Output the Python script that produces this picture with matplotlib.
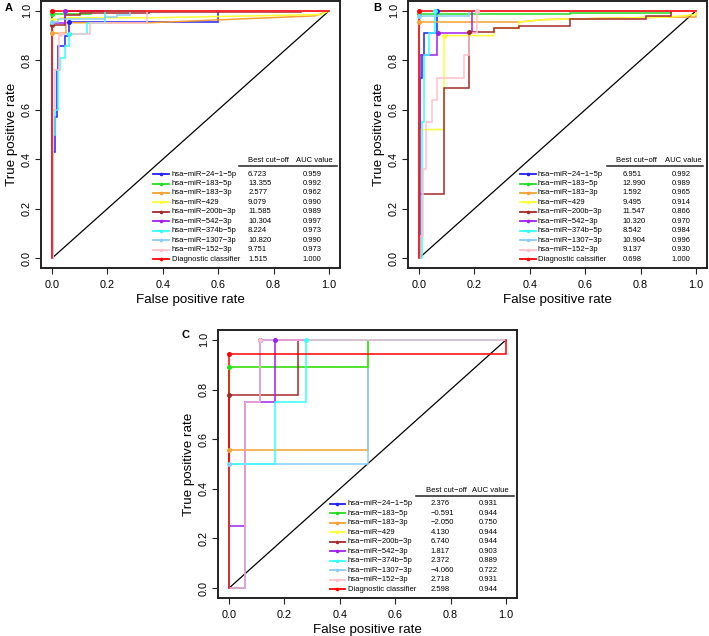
import matplotlib
matplotlib.use("Agg")
import matplotlib.pyplot as plt

plt.rcParams['font.family'] = ['Liberation Sans', 'DejaVu Sans']

# ---------------- data ----------------
NAMES = ["hsa\u2212miR\u221224\u22121\u22125p", "hsa\u2212miR\u2212183\u22125p", "hsa\u2212miR\u2212183\u22123p",
         "hsa\u2212miR\u2212429", "hsa\u2212miR\u2212200b\u22123p", "hsa\u2212miR\u2212542\u22123p",
         "hsa\u2212miR\u2212374b\u22125p", "hsa\u2212miR\u22121307\u22123p", "hsa\u2212miR\u2212152\u22123p"]
A_LAST = "Diagnostic classifier"
B_LAST = "Diagnostic calssifier"
C_LAST = "Diagnostic classifier"

COLORS = ["#1f1fff", "#22dd22", "#f5a030", "#ffff33", "#a52a2a", "#a020f0",
          "#33ffff", "#87cefa", "#ffc0cb", "#ff0000"]

A_cutoff = ["6.723", "13.355", "2.577", "9.079", "11.585", "10.304", "8.224", "10.820", "9.751", "1.515"]
A_auc = ["0.959", "0.992", "0.962", "0.990", "0.989", "0.997", "0.973", "0.990", "0.973", "1.000"]
B_cutoff = ["6.951", "12.990", "1.592", "9.495", "11.547", "10.320", "8.542", "10.904", "9.137", "0.698"]
B_auc = ["0.992", "0.989", "0.965", "0.914", "0.866", "0.970", "0.984", "0.996", "0.930", "1.000"]
C_cutoff = ["2.376", "\u22120.591", "\u22122.050", "4.130", "6.740", "1.817", "2.372", "\u22124.060", "2.718", "2.598"]
C_auc = ["0.931", "0.944", "0.750", "0.944", "0.944", "0.903", "0.889", "0.722", "0.931", "0.944"]

# Panel A ROC curves
A_fpr = [
    [0, 0.005, 0.005, 0.012, 0.012, 0.016, 0.016, 0.02, 0.02, 0.045, 0.045, 0.062, 0.062, 0.6, 0.6, 1],
    [0, 0, 0.14, 0.14, 1],
    [0, 0, 0.05, 0.05, 0.35, 0.95, 1],
    [0, 0, 0.03, 0.03, 0.35, 0.97, 1],
    [0, 0, 0.045, 0.045, 0.1, 0.1, 0.35, 0.35, 0.9, 0.9, 1],
    [0, 0, 0.045, 0.045, 1],
    [0, 0.005, 0.005, 0.012, 0.012, 0.02, 0.02, 0.03, 0.03, 0.045, 0.045, 0.06, 0.06, 0.125, 0.125, 0.19, 0.19, 1],
    [0, 0, 0.02, 0.02, 0.19, 0.19, 0.235, 0.235, 0.28, 0.28, 1],
    [0, 0.005, 0.005, 0.012, 0.012, 0.025, 0.025, 0.137, 0.137, 0.343, 0.343, 1],
    [0, 0, 1],
]
A_tpr = [
    [0, 0, 0.43, 0.43, 0.57, 0.57, 0.76, 0.76, 0.86, 0.86, 0.9, 0.9, 0.957, 0.957, 1, 1],
    [0, 0.988, 0.988, 1, 1],
    [0, 0.91, 0.91, 0.952, 0.952, 0.98, 1],
    [0, 0.965, 0.965, 0.972, 0.972, 0.985, 1],
    [0, 0.943, 0.943, 0.983, 0.983, 0.99, 0.99, 0.995, 0.995, 1, 1],
    [0, 0.95, 0.95, 1, 1],
    [0, 0, 0.5, 0.5, 0.6, 0.6, 0.76, 0.76, 0.81, 0.81, 0.86, 0.86, 0.905, 0.905, 0.952, 0.952, 1, 1],
    [0, 0.955, 0.955, 0.968, 0.968, 0.976, 0.976, 0.985, 0.985, 1, 1],
    [0, 0, 0.6, 0.6, 0.76, 0.76, 0.905, 0.905, 0.95, 0.95, 1, 1],
    [0, 1, 1],
]
A_best_fpr = [0.062, 0, 0, 0, 0, 0.045, 0.06, 0, 0.027, 0]
A_best_tpr = [0.957, 0.988, 0.91, 0.965, 0.943, 1.0, 0.905, 0.955, 0.905, 1.0]

# Panel B ROC curves
B_fpr = [
    [0, 0.005, 0.005, 0.01, 0.01, 0.016, 0.016, 0.064, 0.064, 1],
    [0, 0, 0.545, 0.545, 0.91, 0.91, 1],
    [0, 0, 0.36, 0.455, 0.9, 1, 1],
    [0, 0.005, 0.005, 0.09, 0.09, 0.27, 0.27, 0.36, 0.36, 0.455, 0.9, 1, 1],
    [0, 0, 0.09, 0.09, 0.18, 0.18, 0.27, 0.27, 0.36, 0.36, 0.545, 0.545, 0.818, 0.818, 0.909, 0.909, 1],
    [0, 0.005, 0.005, 0.066, 0.066, 0.19, 0.19, 1],
    [0, 0.01, 0.01, 0.018, 0.018, 0.036, 0.036, 0.056, 0.056, 1],
    [0, 0, 0.18, 0.18, 1],
    [0, 0.005, 0.005, 0.015, 0.015, 0.025, 0.025, 0.045, 0.045, 0.065, 0.065, 0.162, 0.162, 0.18, 0.18, 0.21, 0.21, 1],
    [0, 0, 1],
]
B_tpr = [
    [0, 0, 0.73, 0.73, 0.82, 0.82, 0.91, 0.91, 1, 1],
    [0, 0.987, 0.987, 0.991, 0.991, 1, 1],
    [0, 0.955, 0.955, 0.965, 0.975, 0.975, 1],
    [0, 0, 0.52, 0.52, 0.9, 0.9, 0.93, 0.93, 0.955, 0.965, 0.975, 0.985, 1],
    [0, 0.26, 0.26, 0.69, 0.69, 0.915, 0.915, 0.93, 0.93, 0.94, 0.94, 0.967, 0.967, 0.981, 0.981, 1, 1],
    [0, 0, 0.82, 0.82, 0.91, 0.91, 1, 1],
    [0, 0, 0.55, 0.55, 0.82, 0.82, 0.91, 0.91, 1, 1],
    [0, 0.98, 0.98, 1, 1],
    [0, 0, 0.09, 0.09, 0.36, 0.36, 0.55, 0.55, 0.64, 0.64, 0.73, 0.73, 0.82, 0.82, 0.91, 0.91, 1, 1],
    [0, 1, 1],
]
B_best_fpr = [0.066, 0, 0, 0.09, 0.18, 0.07, 0.056, 0, 0.21, 0]
B_best_tpr = [1.0, 0.987, 0.955, 0.9, 0.915, 0.91, 1.0, 0.98, 1.0, 1.0]

# Panel C ROC curves
C_fpr = [
    [0, 0.056, 0.056, 0.111, 0.111, 1],
    [0, 0, 0.5, 0.5, 1],
    [0, 0, 0.5, 0.5, 1],
    [0, 0, 0.5, 0.5, 1],
    [0, 0, 0.25, 0.25, 1],
    [0, 0, 0.056, 0.056, 0.167, 0.167, 1],
    [0, 0, 0.167, 0.167, 0.278, 0.278, 1],
    [0, 0, 0.5, 0.5, 1],
    [0, 0.056, 0.056, 0.111, 0.111, 1],
    [0, 0, 1, 1],
]
C_tpr = [
    [0, 0, 0.75, 0.75, 1, 1],
    [0, 0.889, 0.889, 1, 1],
    [0, 0.556, 0.556, 1, 1],
    [0, 0.889, 0.889, 1, 1],
    [0, 0.778, 0.778, 1, 1],
    [0, 0.25, 0.25, 0.75, 0.75, 1, 1],
    [0, 0.5, 0.5, 0.75, 0.75, 1, 1],
    [0, 0.5, 0.5, 1, 1],
    [0, 0, 0.75, 0.75, 1, 1],
    [0, 0.944, 0.944, 1],
]
C_best_fpr = [0.111, 0, 0, 0, 0, 0.167, 0.278, 0, 0.111, 0]
C_best_tpr = [1.0, 0.889, 0.556, 0.889, 0.778, 1.0, 1.0, 0.5, 1.0, 0.944]

# drawing order of the series (index into lists above)
A_order = [0, 1, 2, 3, 4, 5, 6, 7, 8, 9]
B_order = [0, 1, 2, 3, 4, 5, 6, 7, 8, 9]
C_order = [0, 2, 7, 3, 1, 4, 5, 6, 8, 9]

TICKS = [0.0, 0.2, 0.4, 0.6, 0.8, 1.0]
TICK_LABELS = ["0.0", "0.2", "0.4", "0.6", "0.8", "1.0"]

# ---------------- drawing ----------------
W, H = 709, 636
fig = plt.figure(figsize=(W / 100, H / 100), dpi=100)


def make_ax(left_px, top_px, right_px, bottom_px):
    return fig.add_axes([left_px / W, 1 - bottom_px / H, (right_px - left_px) / W, (bottom_px - top_px) / H])


def draw_panel(ax, fprs, tprs, bfpr, btpr, names, cutoffs, aucs, order, leg):
    ax.set_xlim(-0.04, 1.04)
    ax.set_ylim(-0.04, 1.04)
    ax.plot([0, 1], [0, 1], color="black", lw=0.9, zorder=1)
    for k, i in enumerate(order):
        ax.plot(fprs[i], tprs[i], color=COLORS[i], lw=1.1, zorder=2 + k * 0.01, solid_joinstyle="miter")
        ax.plot([bfpr[i]], [btpr[i]], "o", color=COLORS[i], ms=3.6, mew=0, zorder=3 + k * 0.01)
    for s in ax.spines.values():
        s.set_linewidth(1.4)
        s.set_color("#222222")
    ax.set_xticks(TICKS)
    ax.set_xticklabels(TICK_LABELS)
    ax.set_yticks(TICKS)
    ax.set_yticklabels(TICK_LABELS, rotation=90, va="center")
    ax.tick_params(axis="both", length=4, width=0.8, labelsize=7.8, color="#222222")
    ax.tick_params(axis="x", pad=4.5)
    ax.tick_params(axis="y", pad=2.5)
    ax.set_xlabel("False positive rate", fontsize=9.6, labelpad=3)
    ax.set_ylabel("True positive rate", fontsize=9.6, labelpad=3)

    # legend table
    sx0, sx1, nx, cx, axx, hx1, hx2, ux0, ux1 = leg
    y0, dy = 0.340, -0.0383
    fs = 5.5
    ax.text(hx1, 0.393, "Best cut\u2212off", fontsize=fs, ha="left", va="center")
    ax.text(hx2, 0.393, "AUC value", fontsize=fs, ha="left", va="center")
    ax.plot([ux0, ux1], [0.372, 0.372], color="#222222", lw=1.1, clip_on=False, zorder=5)
    for i, name in enumerate(names):
        y = y0 + dy * i
        ax.plot([sx0, sx1], [y, y], color=COLORS[i], lw=1.3, zorder=5, clip_on=False)
        ax.plot([(sx0 + sx1) / 2], [y], "o", color=COLORS[i], ms=2.6, mew=0, zorder=6, clip_on=False)
        ax.text(nx, y, name, fontsize=fs, ha="left", va="center")
        ax.text(cx, y, cutoffs[i], fontsize=fs, ha="left", va="center")
        ax.text(axx, y, aucs[i], fontsize=fs, ha="left", va="center")


axA = make_ax(41, 1, 340, 268)
draw_panel(axA, A_fpr, A_tpr, A_best_fpr, A_best_tpr, NAMES + [A_LAST], A_cutoff, A_auc, A_order,
           (0.366, 0.421, 0.432, 0.708, 0.906, 0.706, 0.882, 0.675, 1.03))
axB = make_ax(408, 1, 707, 268)
draw_panel(axB, B_fpr, B_tpr, B_best_fpr, B_best_tpr, NAMES + [B_LAST], B_cutoff, B_auc, B_order,
           (0.364, 0.421, 0.429, 0.734, 0.912, 0.712, 0.890, 0.680, 1.025))
axC = make_ax(218, 330, 517, 598)
draw_panel(axC, C_fpr, C_tpr, C_best_fpr, C_best_tpr, NAMES + [C_LAST], C_cutoff, C_auc, C_order,
           (0.363, 0.420, 0.428, 0.728, 0.903, 0.710, 0.879, 0.674, 1.03))

fig.text(9 / W, 1 - 8 / H, "A", fontsize=8, fontweight="bold", ha="center", va="center")
fig.text(377 / W, 1 - 8 / H, "B", fontsize=8, fontweight="bold", ha="center", va="center")
fig.text(185 / W, 1 - 335 / H, "C", fontsize=8, fontweight="bold", ha="center", va="center")

fig.savefig("out.png", dpi=100)
